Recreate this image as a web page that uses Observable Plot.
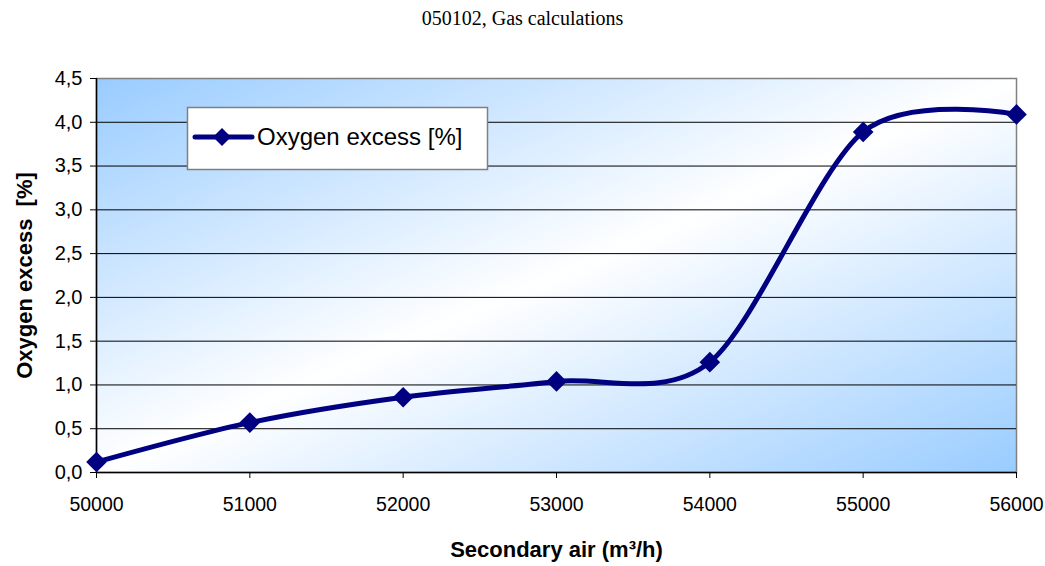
<!DOCTYPE html>
<html><head><meta charset="utf-8">
<script src="https://cdn.jsdelivr.net/npm/d3@7"></script>
<script src="https://cdn.jsdelivr.net/npm/@observablehq/plot@0.6"></script>
<style>
body{margin:0;background:#fff;}
#wrap{position:relative;width:1045px;height:566px;overflow:hidden;}
#title{height:36px;font:20px "Liberation Serif",serif;text-align:center;line-height:36px;color:#000;}
#chart svg{display:block;}
</style></head><body>
<div id="wrap"><div id="title">050102, Gas calculations</div><div id="chart"></div></div>
<script>
const airFlow = [50000, 51000, 52000, 53000, 54000, 55000, 56000];
const oxygenExcess = [0.12, 0.57, 0.86, 1.04, 1.26, 3.89, 4.09];
const xTicks = [50000, 51000, 52000, 53000, 54000, 55000, 56000];
const yTicks = [0, 0.5, 1, 1.5, 2, 2.5, 3, 3.5, 4, 4.5];
const gridLines = [0.5, 1, 1.5, 2, 2.5, 3, 3.5, 4];
const seriesName = "Oxygen excess [%]";
const xTitle = "Secondary air (m³/h)";
const yTitle = "Oxygen excess  [%]";

const data = airFlow.map((x, i) => ({x, y: oxygenExcess[i]}));
const navy = "#000080";

const plot = Plot.plot({
  width: 1045,
  height: 530,
  marginTop: 42,
  marginBottom: 94,
  marginLeft: 96,
  marginRight: 29,
  style: {fontFamily: "'Liberation Sans', Arial, sans-serif", fontSize: "20px", color: "#000", background: "transparent"},
  x: {domain: [50000, 56000]},
  y: {domain: [0, 4.5]},
  marks: [
    Plot.frame({fill: "url(#bgGrad)", stroke: "#808080", strokeWidth: 1.5}),
    Plot.ruleY(gridLines, {stroke: "#000", strokeWidth: 1}),
    Plot.axisX({ticks: xTicks, tickFormat: d => String(d), tickSize: 6, tickPadding: 19, stroke: "#000", fontSize: 19.5,
      label: xTitle, labelAnchor: "center", labelArrow: "none", labelOffset: 84}),
    Plot.axisY({ticks: yTicks, tickFormat: d => d.toFixed(1).replace(".", ","), tickSize: 6, tickPadding: 8, stroke: "#000", fontSize: 20,
      label: yTitle, labelAnchor: "center", labelArrow: "none", labelOffset: 80}),
    Plot.ruleX([50000], {stroke: "#000", strokeWidth: 1.5}),
    Plot.ruleY([0], {stroke: "#000", strokeWidth: 1.5}),
    Plot.line(data, {x: "x", y: "y", stroke: navy, strokeWidth: 5, curve: "cardinal", tension: 0.1}),
    Plot.dot(data, {x: "x", y: "y", symbol: "diamond2", r: 9.3, fill: navy, stroke: "none"})
  ]
});

// gradient definition
const svg = d3.select(plot);
const defs = svg.insert("defs", ":first-child");
const g = defs.append("linearGradient").attr("id", "bgGrad")
  .attr("x1", 0).attr("y1", 0).attr("x2", 1).attr("y2", 1);
g.append("stop").attr("offset", 0).attr("stop-color", "#99ccff");
g.append("stop").attr("offset", 0.5).attr("stop-color", "#ffffff");
g.append("stop").attr("offset", 1).attr("stop-color", "#99ccff");

// axis titles bold and larger
svg.selectAll("[aria-label='x-axis label'] text, [aria-label='y-axis label'] text")
  .attr("font-weight", "bold").attr("font-size", 22);

// legend
const lg = svg.append("g").attr("class", "legend").attr("text-anchor", "start");
lg.append("rect").attr("x", 187.5).attr("y", 71.5).attr("width", 300).attr("height", 62)
  .attr("fill", "#fff").attr("stroke", "#808080").attr("stroke-width", 1.5);
lg.append("line").attr("x1", 195).attr("x2", 252).attr("y1", 101).attr("y2", 101)
  .attr("stroke", navy).attr("stroke-width", 5).attr("stroke-linecap", "round");
lg.append("path").attr("d", "M222,92L231,101L222,110L213,101Z").attr("fill", navy);
lg.append("text").attr("x", 257).attr("y", 109).attr("font-size", 24).attr("text-anchor", "start")
  .attr("font-family", "'Liberation Sans', Arial, sans-serif").attr("fill", "#000").text(seriesName);

document.getElementById("chart").appendChild(plot);
</script>
</body></html>
